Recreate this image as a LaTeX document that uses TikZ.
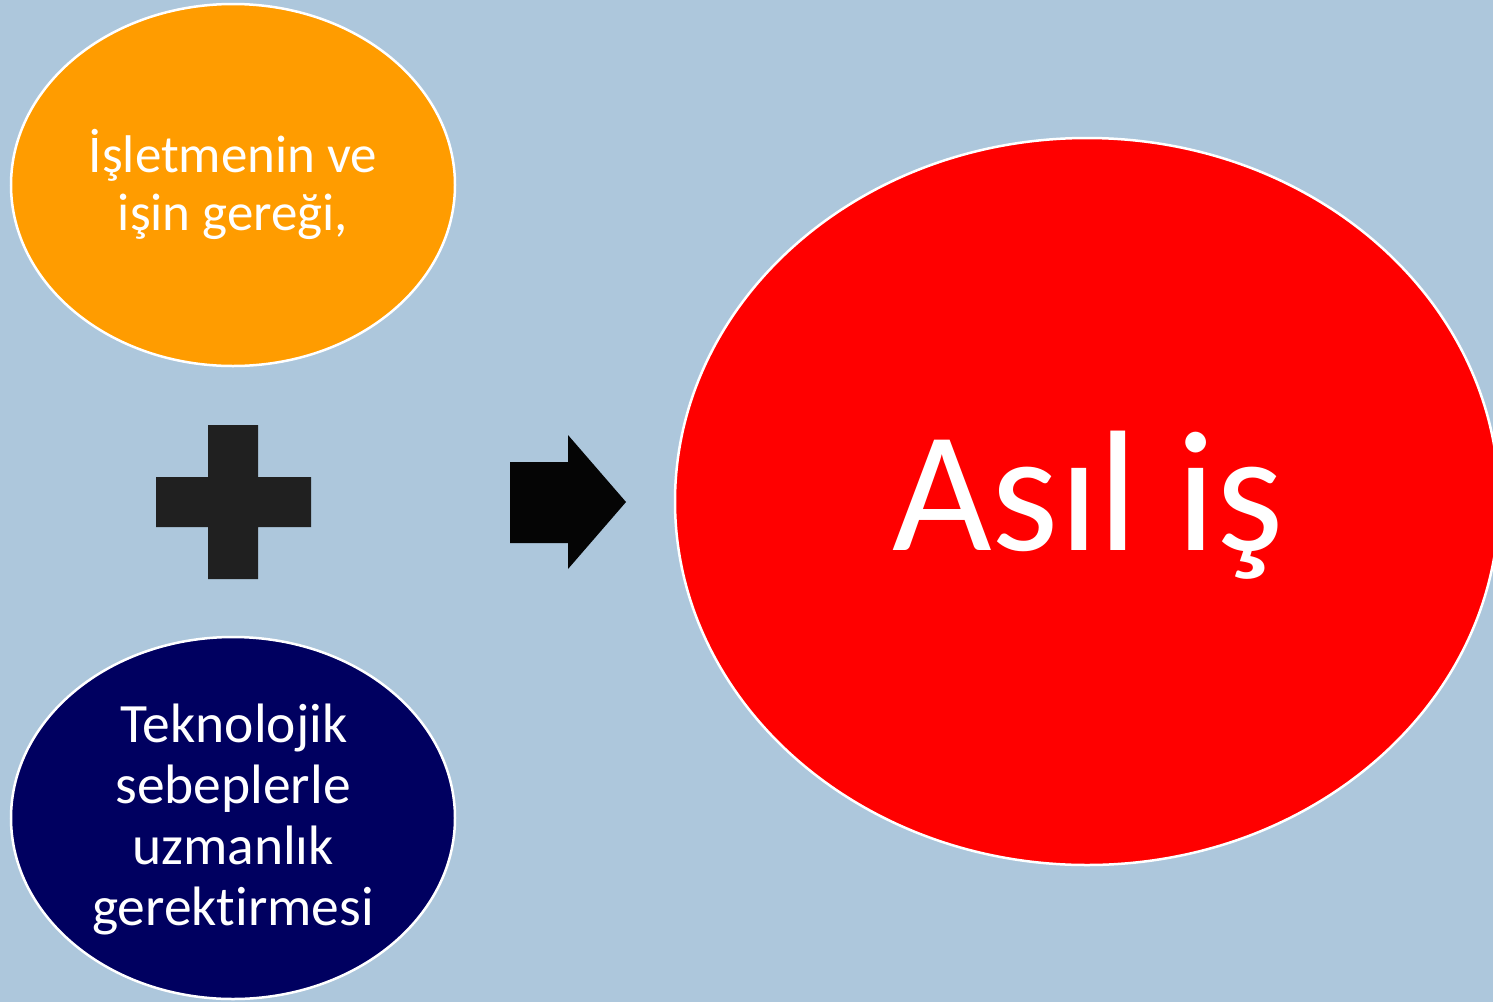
\documentclass[tikz,border=0pt]{standalone}
\usepackage{fontspec}
\setmainfont{Carlito}[Ligatures={NoCommon}]
\usetikzlibrary{shapes.geometric}
\definecolor{bgblue}{RGB}{173,199,220}
\definecolor{orangeC}{RGB}{255,156,0}
\definecolor{navyC}{RGB}{0,0,96}
\definecolor{redC}{RGB}{255,0,0}
\definecolor{plusC}{RGB}{32,32,32}
\definecolor{arrowC}{RGB}{5,5,5}
\begin{document}
\begin{tikzpicture}[x=1pt,y=-1pt,
  blob/.style={ellipse, draw=white, line width=2.5pt, inner sep=0pt, outer sep=0pt},
  txt/.style={text=white, anchor=base, inner sep=0pt, font=\fontsize{53}{58}\selectfont},
  ntxt/.style={text=white, anchor=base, inner sep=0pt, font=\fontsize{55.5}{61}\selectfont},
  bigtxt/.style={text=white, anchor=base, inner sep=0pt, font=\fontsize{172}{200}\selectfont}]
\useasboundingbox (0,0) rectangle (1493,1002);
\clip (0,0) rectangle (1493,1002);
\fill[bgblue] (0,0) rectangle (1493,1002);
% ellipses
\node[blob, fill=orangeC, minimum width=444pt, minimum height=362pt] (orange) at (233,185) {};
\node[blob, fill=navyC, minimum width=444pt, minimum height=362pt] (navy) at (233,818) {};
\node[blob, fill=redC, minimum width=824pt, minimum height=727pt] (red) at (1087,501.5) {};
% texts
\node[txt] (o1) at (233,172) {İşletmenin ve};
\node[txt] (o2) at (233,230) {işin gereği,};
\node[ntxt] (n1) at (234,742) {Teknolojik};
\node[ntxt] (n2) at (233,803) {sebeplerle};
\node[ntxt] (n3) at (233,864) {uzmanlık};
\node[ntxt] (n4) at (233,925) {gerektirmesi};
\node[bigtxt] (asil) at (1088,550) {Asıl iş};
% plus sign
\fill[plusC] (208,425) -- (258,425) -- (258,477) -- (311,477) -- (311,527) -- (258,527)
  -- (258,579) -- (208,579) -- (208,527) -- (156,527) -- (156,477) -- (208,477) -- cycle;
% block arrow
\fill[arrowC] (510,462) -- (568,462) -- (568,435) -- (626,502) -- (568,569) -- (568,543)
  -- (510,543) -- cycle;
\end{tikzpicture}
\end{document}
